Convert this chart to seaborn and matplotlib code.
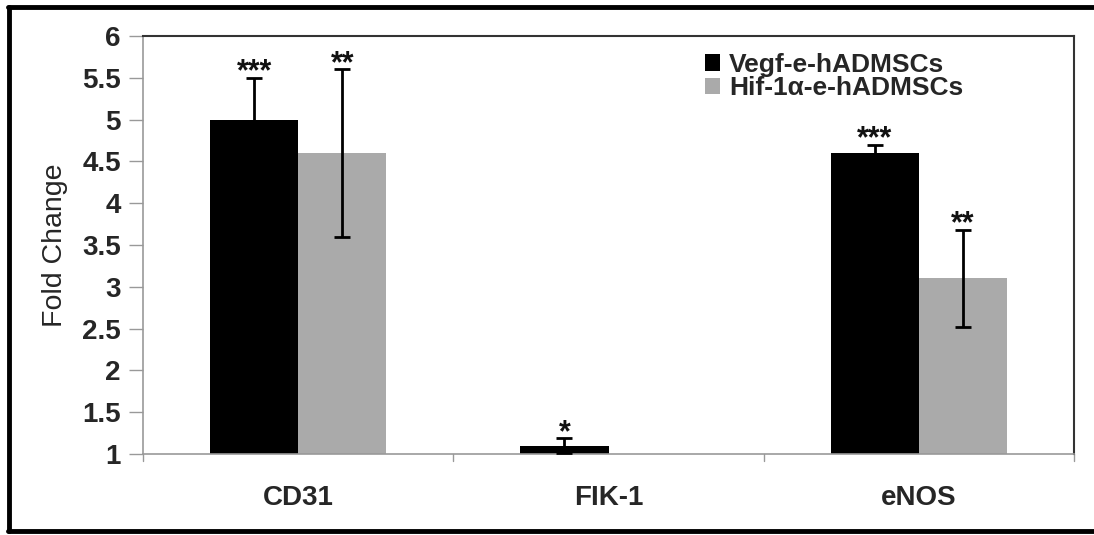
import matplotlib
matplotlib.use("Agg")
import matplotlib.pyplot as plt
import seaborn as sns
import pandas as pd
import numpy as np
from matplotlib.lines import Line2D
from matplotlib.patches import Patch

# Gene expression fold change data
genes = ["CD31", "FIK-1", "eNOS"]
groups = ["Vegf-e-hADMSCs", "Hif-1α-e-hADMSCs"]
vegf_fold = [5.0, 1.1, 4.6]
vegf_err = [0.5, 0.09, 0.1]
vegf_sig = ["***", "*", "***"]
hif_fold = [4.6, 1.0, 3.1]
hif_err = [1.0, 0.0, 0.58]
hif_sig = ["**", "", "**"]
y_ticks = [1, 1.5, 2, 2.5, 3, 3.5, 4, 4.5, 5, 5.5, 6]

sns.set_theme(style="white")
plt.rcParams["font.family"] = ["Liberation Sans", "DejaVu Sans"]

df = pd.DataFrame({
    "Gene": genes * 2,
    "Group": [groups[0]] * 3 + [groups[1]] * 3,
    "Fold": vegf_fold + hif_fold,
})

fig = plt.figure(figsize=(10.94, 5.35), dpi=100)
ax = fig.add_axes([143 / 1094, 1 - 454 / 535, (1074 - 143) / 1094, (454 - 36) / 535])

palette = {groups[0]: "#000000", groups[1]: "#aaaaaa"}
sns.barplot(data=df, x="Gene", y="Fold", hue="Group", order=genes,
            hue_order=groups, palette=palette, width=0.568, saturation=1,
            errorbar=None, ax=ax, legend=False, linewidth=0)

# error bars and significance marks over each bar
bars = ax.patches
errs = vegf_err + hif_err
sigs = vegf_sig + hif_sig
vals = vegf_fold + hif_fold
for bar, val, err, sig in zip(bars, vals, errs, sigs):
    xc = bar.get_x() + bar.get_width() / 2
    if err > 0:
        ax.errorbar(xc, val, yerr=err, fmt="none", ecolor="#000000",
                    elinewidth=2, capsize=6, capthick=2, zorder=3)
    if sig:
        ax.annotate(sig, (xc, val + err), xytext=(0, -2),
                    textcoords="offset points", ha="center", va="baseline",
                    fontsize=22, fontweight="bold", color="#111111")

ax.set_ylim(1, 6)
ax.set_xlim(-0.5, 2.5)
ax.set_yticks(y_ticks)
ax.set_yticklabels([f"{t:g}" for t in y_ticks], fontsize=20, fontweight="bold")
ax.set_xticks([0, 1, 2])
ax.set_xticklabels(genes, fontsize=20, fontweight="bold")
ax.tick_params(axis="x", length=0, pad=22)
ax.tick_params(axis="y", length=10, width=1, color="#999999", pad=6,
               left=True, direction="out")
ax.set_xlabel("")
ax.set_ylabel("Fold Change", fontsize=20.5, labelpad=10)

# category boundary ticks on the x axis
for xb in [-0.5, 0.5, 1.5, 2.5]:
    ax.plot([xb, xb], [1, 0.92], color="#999999", lw=1, clip_on=False,
            transform=ax.transData)

for side in ["left", "bottom"]:
    ax.spines[side].set_color("#999999")
    ax.spines[side].set_linewidth(1.2)
for side in ["top", "right"]:
    ax.spines[side].set_color("#333333")
    ax.spines[side].set_linewidth(1.5)
    ax.spines[side].set_visible(True)

handles = [Patch(facecolor=palette[g], edgecolor="none") for g in groups]
leg = ax.legend(handles, groups, loc="upper left", bbox_to_anchor=(0.592, 0.985),
                frameon=False, fontsize=19, handlelength=0.58, handleheight=0.58,
                handletextpad=0.35, labelspacing=-0.02, borderaxespad=0)
for t in leg.get_texts():
    t.set_fontweight("bold")

# outer frame around the figure
fig.add_artist(Line2D([8 / 1094, 1.01], [1 - 6.5 / 535, 1 - 6.5 / 535],
                      color="black", lw=3.5, transform=fig.transFigure))
fig.add_artist(Line2D([9 / 1094, 9 / 1094], [1 - 6.5 / 535, 1 - 531 / 535],
                      color="black", lw=3.5, transform=fig.transFigure))
fig.add_artist(Line2D([8 / 1094, 1.01], [1 - 531 / 535, 1 - 531 / 535],
                      color="black", lw=3.5, transform=fig.transFigure))

fig.savefig("out.png", dpi=100, facecolor="white")
